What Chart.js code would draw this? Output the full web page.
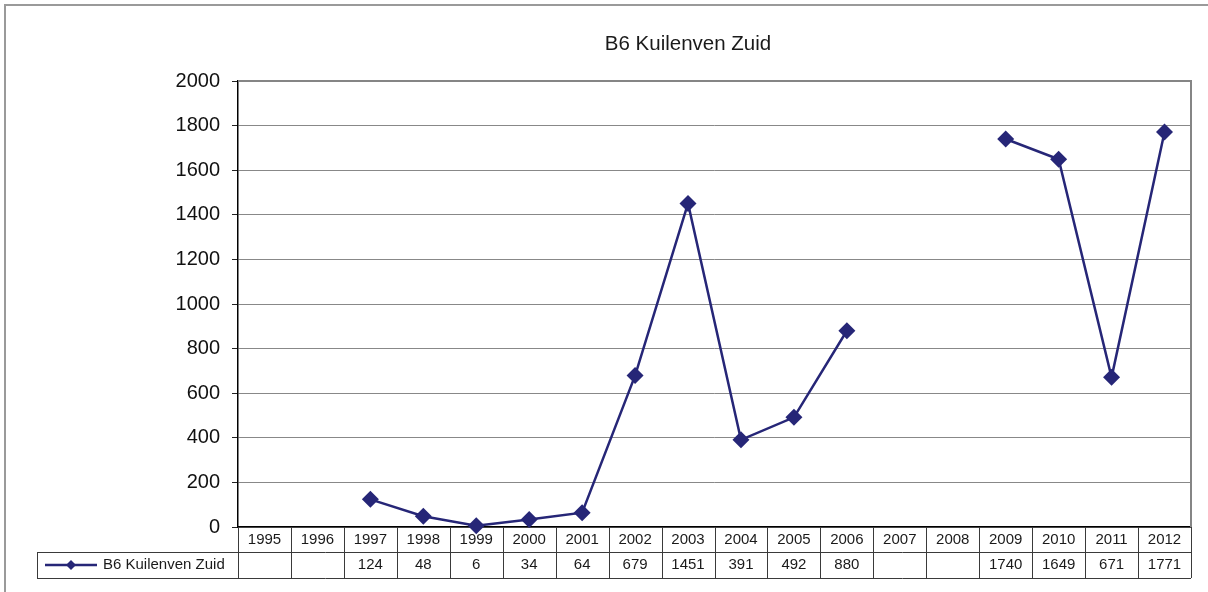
<!DOCTYPE html>
<html lang="nl">
  <head>
    <meta charset="UTF-8" />
    <title>B6 Kuilenven Zuid</title>
    <script src="https://cdn.jsdelivr.net/npm/chart.js"></script>
    <style>
      html, body { margin: 0; padding: 0; background: #fff; }
      canvas { display: block; }
    </style>
  </head>
  <body>
    <canvas id="kuilChart" width="1208" height="592"></canvas>

    <script>
      const chartTitle = "B6 Kuilenven Zuid";
      const seriesName = "B6 Kuilenven Zuid";
      const years = [
        "1995", "1996", "1997", "1998", "1999", "2000", "2001", "2002", "2003",
        "2004", "2005", "2006", "2007", "2008", "2009", "2010", "2011", "2012",
      ];
      const counts = [
        null, null, 124, 48, 6, 34, 64, 679, 1451,
        391, 492, 880, null, null, 1740, 1649, 671, 1771,
      ];
      const yTicks = [0, 200, 400, 600, 800, 1000, 1200, 1400, 1600, 1800, 2000];

      const navy = "#262677";
      const fontFamily = "'Liberation Sans', Arial, sans-serif";

      // titel, kader en datatabel onder de grafiek
      const tablePlugin = {
        id: "dataTable",
        beforeDraw(chart) {
          const ctx = chart.ctx;
          ctx.save();
          ctx.strokeStyle = "#9a9a9a";
          ctx.lineWidth = 2;
          ctx.strokeRect(5, 5, 1400, 800);
          ctx.restore();
        },
        afterDraw(chart) {
          const ctx = chart.ctx;
          const area = chart.chartArea;
          const xs = chart.scales.x;
          const half = (xs.getPixelForValue(1) - xs.getPixelForValue(0)) / 2;
          const top = area.bottom;
          const mid = top + 25;
          const bot = top + 51;
          const left = 37;

          ctx.save();
          // titel
          ctx.fillStyle = "#1a1a1a";
          ctx.font = "20.5px " + fontFamily;
          ctx.textAlign = "center";
          ctx.textBaseline = "middle";
          ctx.fillText(chartTitle, 688, 44);

          // grijze rand boven en rechts van het plotgebied
          ctx.strokeStyle = "#858585";
          ctx.lineWidth = 2;
          ctx.beginPath();
          ctx.moveTo(area.left, area.top);
          ctx.lineTo(area.right, area.top);
          ctx.lineTo(area.right, area.bottom);
          ctx.stroke();

          // tabelraster
          ctx.strokeStyle = "#3a3a3a";
          ctx.lineWidth = 1;
          ctx.beginPath();
          for (let i = 0; i <= years.length; i++) {
            const x = Math.round(xs.getPixelForValue(i) - half) + 0.5;
            ctx.moveTo(x, top);
            ctx.lineTo(x, bot);
          }
          ctx.moveTo(left, mid + 0.5);
          ctx.lineTo(area.right, mid + 0.5);
          ctx.moveTo(left, bot + 0.5);
          ctx.lineTo(area.right, bot + 0.5);
          ctx.moveTo(left + 0.5, mid);
          ctx.lineTo(left + 0.5, bot);
          ctx.stroke();

          // jaartallen en waarden
          ctx.fillStyle = "#1a1a1a";
          ctx.font = "15px " + fontFamily;
          ctx.textAlign = "center";
          years.forEach((y, i) => {
            const x = xs.getPixelForValue(i);
            ctx.fillText(y, x, top + 13);
            if (counts[i] !== null) ctx.fillText(String(counts[i]), x, mid + 13);
          });

          // legenda in de tabel
          const ly = mid + 13;
          ctx.strokeStyle = navy;
          ctx.lineWidth = 2.5;
          ctx.beginPath();
          ctx.moveTo(45, ly);
          ctx.lineTo(97, ly);
          ctx.stroke();
          ctx.fillStyle = navy;
          ctx.beginPath();
          ctx.moveTo(71, ly - 5);
          ctx.lineTo(76, ly);
          ctx.lineTo(71, ly + 5);
          ctx.lineTo(66, ly);
          ctx.closePath();
          ctx.fill();
          ctx.fillStyle = "#1a1a1a";
          ctx.textAlign = "left";
          ctx.fillText(seriesName, 103, ly);
          ctx.restore();
        },
      };

      const ctx = document.getElementById("kuilChart").getContext("2d");
      new Chart(ctx, {
        type: "line",
        data: {
          labels: years,
          datasets: [
            {
              label: seriesName,
              data: counts,
              borderColor: navy,
              backgroundColor: navy,
              borderWidth: 2.5,
              pointStyle: "rectRot",
              pointRadius: 8.5,
              pointBorderWidth: 0,
              pointBackgroundColor: navy,
              spanGaps: false,
              tension: 0,
              clip: false,
            },
          ],
        },
        options: {
          responsive: false,
          animation: false,
          layout: { padding: { top: 81, right: 17, bottom: 14, left: 0 } },
          plugins: {
            legend: { display: false },
            title: { display: false },
            tooltip: { enabled: false },
          },
          scales: {
            x: {
              offset: true,
              ticks: { display: false },
              grid: { display: false, drawTicks: false },
              border: { display: true, color: "#000", width: 1.5 },
              afterFit: (scale) => { scale.height = 51; },
            },
            y: {
              min: 0,
              max: 2000,
              afterBuildTicks: (scale) => {
                scale.ticks = yTicks.map((v) => ({ value: v }));
              },
              ticks: {
                padding: 12,
                color: "#111",
                font: { size: 20, family: fontFamily },
                callback: (value) => String(value),
              },
              grid: {
                color: "#888",
                lineWidth: 1,
                tickLength: 6,
                tickColor: "#222",
              },
              border: { display: true, color: "#000", width: 1.5 },
              afterFit: (scale) => { scale.width = 238; },
            },
          },
        },
        plugins: [tablePlugin],
      });
    </script>
  </body>
</html>
